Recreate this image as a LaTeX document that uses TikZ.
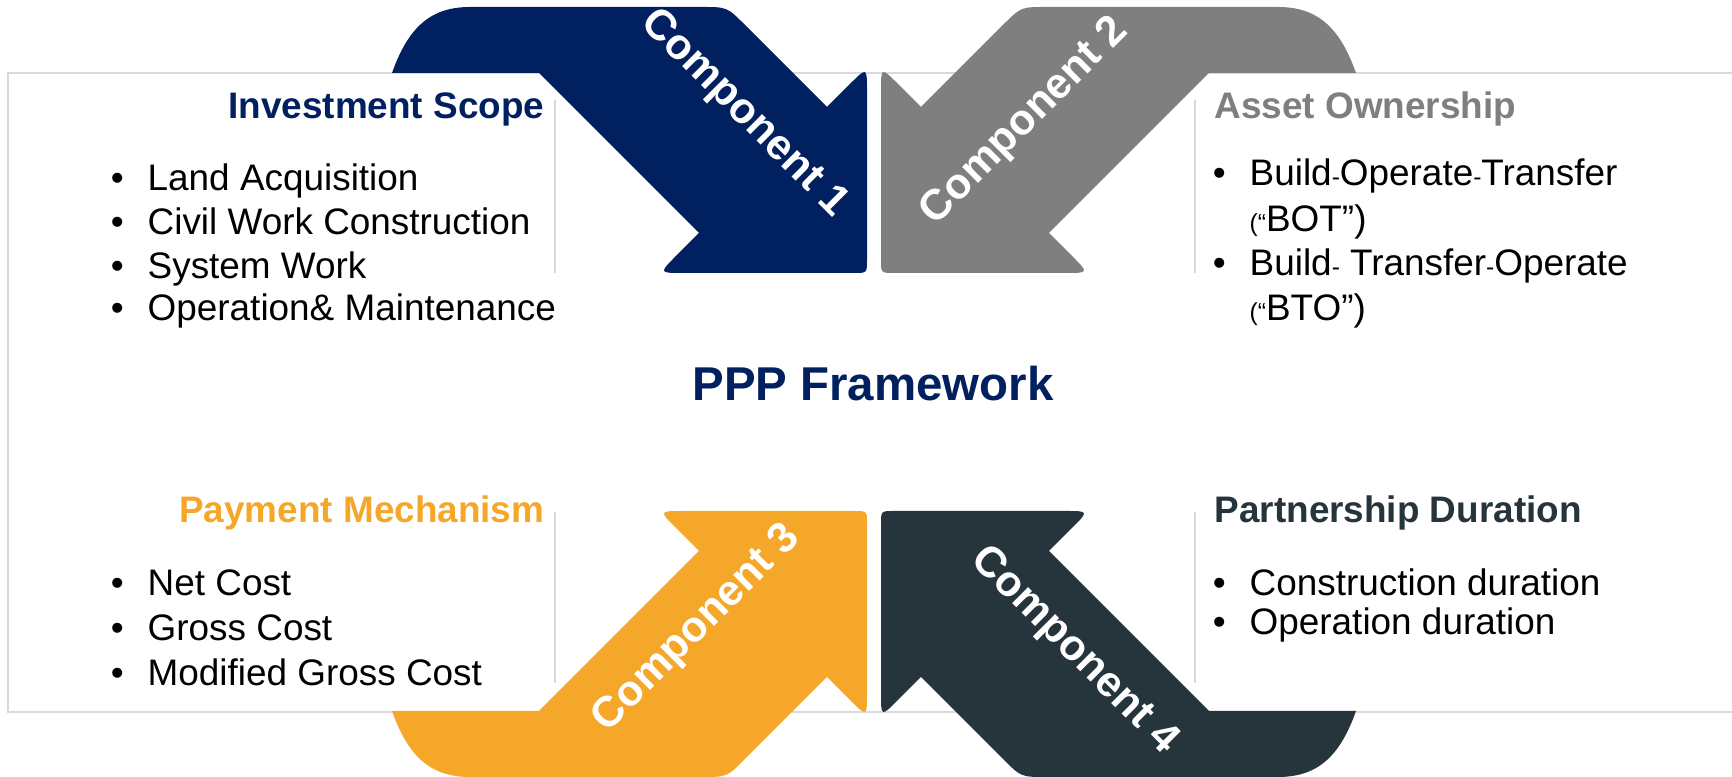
\documentclass[tikz,border=0pt]{standalone}
\usepackage{fontspec}
\setmainfont{Liberation Sans}

\definecolor{compone}{RGB}{0,32,96}
\definecolor{comptwo}{RGB}{127,127,127}
\definecolor{compthree}{RGB}{245,167,41}
\definecolor{compfour}{RGB}{38,52,60}
\definecolor{rulegray}{RGB}{217,217,217}

\tikzset{
  heading/.style={font=\fontsize{10.5}{12}\selectfont\bfseries, inner sep=0pt},
  item/.style={font=\fontsize{10.5}{12}\selectfont, inner sep=0pt, anchor=base west},
  complabel/.style={font=\fontsize{12.2}{14}\selectfont\bfseries, text=white, inner sep=0pt},
}

% bullet hanging left of the item text
\newcommand{\bul}{\llap{\textbullet\hspace{2.4mm}}}
% small hyphen and opening bracket
\newcommand{\sh}{{\fontsize{7}{8}\selectfont-}}
\newcommand{\sq}{{\fontsize{7}{8}\selectfont(\textquotedblleft}}

% bent arrow, drawn around the centre of the figure
\newcommand{\comparrow}{(-482,-319) .. controls (-466,-364) and (-444,-385) .. (-404,-385)
  -- (-172,-385) .. controls (-147,-385) .. (-129,-367)
  -- (-47,-285)
  -- (-24,-308) .. controls (-7,-325) .. (-7,-301)
  -- (-7,-132) .. controls (-7,-119) .. (-20,-119)
  -- (-191,-119) .. controls (-215,-119) .. (-198,-136)
  -- (-175,-159) -- (-335,-319) -- cycle}

\begin{document}
\begin{tikzpicture}[x=0.1mm,y=-0.1mm]
\useasboundingbox (0,0) rectangle (1732,777);
\fill[white] (0,0) rectangle (1732,777);

% Frame
\draw[rulegray, line width=0.15mm] (1732,73) -- (8,73) -- (8,712) -- (1732,712);

% Four arrows
\foreach \sx/\sy/\col in {1/1/compone, -1/1/comptwo, 1/-1/compthree, -1/-1/compfour} {
  \begin{scope}[shift={(874,392)}, xscale=\sx, yscale=\sy]
    \fill[\col] \comparrow;
  \end{scope}
}

\node[complabel, rotate=-45] (comp-1) at (744,114) {Component 1};
\node[complabel, rotate=45] (comp-2) at (1025,122) {Component 2};
\node[complabel, rotate=45] (comp-3) at (697,629) {Component 3};
\node[complabel, rotate=-45] (comp-4) at (1074,651) {Component 4};

% Dividers
\foreach \x in {555,1195} {
  \draw[rulegray, line width=0.2mm] (\x,100) -- (\x,273);
  \draw[rulegray, line width=0.2mm] (\x,512) -- (\x,683);
}

\node[font=\fontsize{13.5}{16}\selectfont\bfseries, text=compone, anchor=base] (ppp) at (873,401) {PPP Framework};

% Investment scope
\node[heading, text=compone, anchor=base east] (scope-head) at (545,119) {Investment Scope};
\foreach \t/\y [count=\i] in {Land Acquisition/191, Civil Work Construction/235, System Work/279, Operation\& Maintenance/321}
  \node[item] (scope-\i) at (147,\y) {\bul\t};

% Asset ownership
\node[heading, text=comptwo, anchor=base west] (own-head) at (1214,119) {Asset Ownership};
\node[item] (own-1) at (1249,186) {\bul Build\sh Operate\sh Transfer};
\node[item] (own-2) at (1249,232) {\sq BOT\textquotedblright)};
\node[item] (own-3) at (1249,276) {\bul Build\sh{} Transfer\sh Operate};
\node[item] (own-4) at (1249,321) {\sq BTO\textquotedblright)};

% Payment mechanism
\node[heading, text=compthree, anchor=base east] (pay-head) at (545,523) {Payment Mechanism};
\foreach \t [count=\i] in {Net Cost, Gross Cost, Modified Gross Cost}
  \node[item] (pay-\i) at (147,{551+45*\i}) {\bul\t};

% Partnership duration
\node[heading, text=compfour, anchor=base west] (dur-head) at (1214,523) {Partnership Duration};
\node[item] (dur-1) at (1249,596) {\bul Construction duration};
\node[item] (dur-2) at (1249,635) {\bul Operation duration};
\end{tikzpicture}
\end{document}
